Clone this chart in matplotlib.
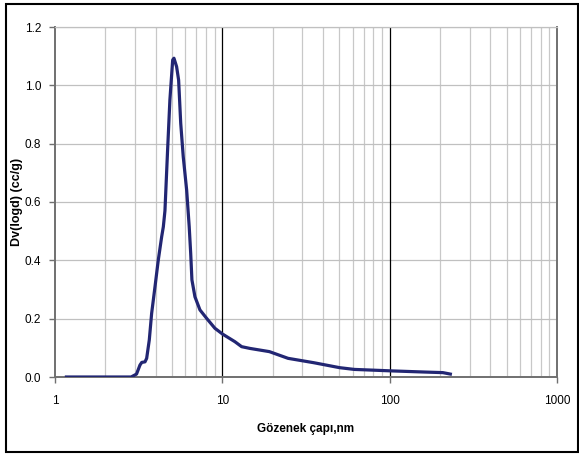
import matplotlib
matplotlib.use("Agg")
import matplotlib.pyplot as plt
from matplotlib.ticker import FixedLocator, NullFormatter, FixedFormatter
from matplotlib.patches import Rectangle

plt.rcParams['font.family'] = ['Liberation Sans', 'DejaVu Sans']

# Pore diameter (nm) and Dv(log d) (cc/g)
diameter = [1.17, 2.0, 2.85, 3.07, 3.22, 3.30, 3.45, 3.53, 3.66, 3.78, 3.96, 4.14,
            4.34, 4.44, 4.54, 4.71, 4.86, 5.05, 5.14, 5.33, 5.48, 5.64, 5.84,
            6.12, 6.34, 6.47, 6.58, 6.86, 7.35, 8.06, 9.03, 10.04, 11.89, 13.04,
            14.62, 19.1, 24.7, 35.2, 50.2, 61.5, 75.4, 102, 161.6, 208, 230.5]
dv = [0.0, 0.0, 0.0, 0.01, 0.041, 0.05, 0.052, 0.064, 0.127, 0.218, 0.31, 0.40,
      0.481, 0.515, 0.57, 0.78, 0.95, 1.087, 1.093, 1.064, 1.018, 0.87, 0.755,
      0.641, 0.515, 0.424, 0.333, 0.275, 0.23, 0.201, 0.167, 0.147, 0.121, 0.104,
      0.098, 0.087, 0.064, 0.049, 0.032, 0.026, 0.024, 0.021, 0.017, 0.015, 0.010]

x_ticks = [1, 10, 100, 1000]
x_tick_labels = ["1", "10", "100", "1000"]
y_ticks = [0.0, 0.2, 0.4, 0.6, 0.8, 1.0, 1.2]
y_tick_labels = ["0.0", "0.2", "0.4", "0.6", "0.8", "1.0", "1.2"]

fig = plt.figure(figsize=(5.79, 4.55), dpi=100)
ax = fig.add_axes([55/579, 78/455, 502/579, 350/455])

ax.set_xscale('log')
ax.set_xlim(1, 1000)
ax.set_ylim(0, 1.2)

# minor vertical grid
minor = [m * d for d in (1, 10, 100) for m in range(2, 10)]
ax.xaxis.set_minor_locator(FixedLocator(minor))
ax.xaxis.set_minor_formatter(NullFormatter())
ax.xaxis.set_major_locator(FixedLocator(x_ticks))
ax.xaxis.set_major_formatter(FixedFormatter(x_tick_labels))
ax.yaxis.set_major_locator(FixedLocator(y_ticks))
ax.yaxis.set_major_formatter(FixedFormatter(y_tick_labels))

ax.grid(which='minor', axis='x', color='#c8c8c8', linewidth=0.9)
ax.grid(which='major', axis='y', color='#c0c0c0', linewidth=0.9)
for v in (10, 100):
    ax.axvline(v, color='black', linewidth=0.9, zorder=1)
ax.set_axisbelow(True)

ax.plot(diameter, dv, color='#222673', linewidth=2.3, solid_joinstyle='round', zorder=3)

for s in ('left', 'bottom', 'right'):
    ax.spines[s].set_color('#707070')
    ax.spines[s].set_linewidth(1.4)
ax.spines['top'].set_color('#c0c0c0')
ax.spines['top'].set_linewidth(0.9)

ax.tick_params(which='major', direction='out', length=4, width=1, color='#707070',
               labelsize=8.5, pad=6)
ax.tick_params(axis='x', which='minor', length=0)
ax.tick_params(axis='x', which='major', pad=9)

ax.set_xlabel('Gözenek çapı,nm', fontsize=8.5, fontweight='bold')
ax.xaxis.set_label_coords(0.5, -46/350)
ax.set_ylabel('Dv(logd) (cc/g)', fontsize=9, fontweight='bold')
ax.yaxis.set_label_coords(-32/502, 0.5)

# outer frame
fig.patches.append(Rectangle((6/579, 3/455), 572/579, 448/455, transform=fig.transFigure,
                             fill=False, edgecolor='black', linewidth=1.5))

fig.savefig('out.png', dpi=100)
